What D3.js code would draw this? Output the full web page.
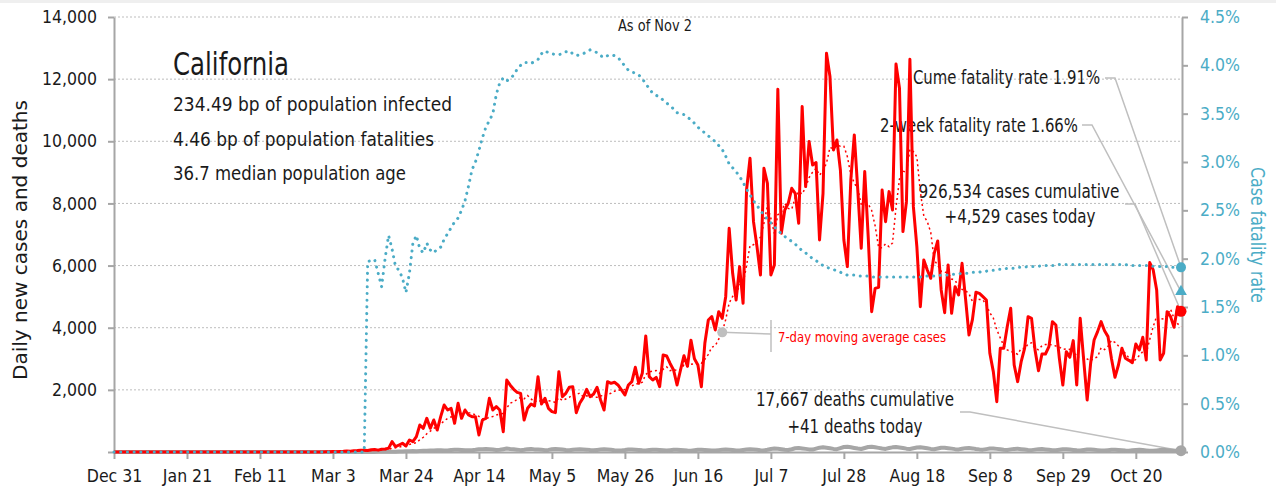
<!DOCTYPE html>
<html lang="en">

<head>
    <meta charset="UTF-8">
    <title>California</title>
    <script src="https://d3js.org/d3.v7.min.js"></script>
    <style>
        body {
            margin: 0;
            background: #fff;
        }

        text {
            font-family: "DejaVu Sans Condensed", "Liberation Sans Narrow", "DejaVu Sans", sans-serif;
            font-stretch: condensed;
            fill: #1a1a1a;
        }

        .axis path,
        .axis line {
            stroke: #a6a6a6;
            stroke-width: 2;
        }

        .axis text {
            font-size: 17.5px;
        }

        .rate text {
            fill: #4bacc6;
        }

        .grid {
            stroke: #bdbdbd;
            stroke-width: 1;
            stroke-dasharray: 2, 2;
        }

        .leader {
            fill: none;
            stroke: #bfbfbf;
            stroke-width: 1.5;
        }
    </style>
</head>

<body>
    <svg width="1276" height="493" id="chart"></svg>
</body>
<script>
    // one value per day, starting Dec 31 2019, ending Nov 2 2020
    var startDay = "2019-12-31";

    var dailyCases = [
        0, 0, 0, 0, 0, 0, 0, 0, 0, 0, 0, 0, 0, 0, 0, 0, 0, 0, 0, 0, 0, 0, 0, 0, 0, 0,
        1, 0, 0, 0, 0, 1, 1, 0, 0, 0, 1, 0, 0, 0, 0, 0, 0, 0, 0, 0, 0, 0, 0, 0, 0, 0, 1, 2, 1, 3, 1, 2, 0, 3,
        4, 6, 10, 14, 12, 18, 22, 30, 28, 40, 45, 55, 60, 50, 70, 80, 60, 90, 100,
        118, 333, 170, 225, 280, 193, 386, 333, 494, 870, 762, 1084, 762, 1030, 708, 1137, 1513, 1352, 1406, 923,
        1567, 1084, 1352, 1191, 1137, 1137, 547, 1030, 1084, 1727, 1352, 1459, 1352, 654, 2318, 2150, 2017, 1920, 1888, 1030,
        1406, 1545, 1480, 2425, 1545, 1727, 1406, 1298, 1266, 2586, 1781, 1888, 2082, 2103, 1266, 1567, 1750, 2017, 1781, 1867,
        2082, 1674, 1352, 2264, 2210, 2243, 2157, 2000, 1835, 2157, 2264, 2725, 2210, 2532, 3734, 2425, 2318, 2403, 2103, 3122,
        3090, 2850, 2640, 2157, 2640, 3100, 2760, 3600, 3000, 2800, 2103, 3498, 4249, 4356, 3927, 4517, 4303, 5000, 7200, 5751,
        4893, 5966, 4786, 8434, 9453, 7414, 6610, 5698, 9131, 8648, 5698, 6020, 11674, 7039, 7790, 8005, 8487, 8327, 7361, 11116,
        8541, 9990, 9238, 9314, 6824, 8327, 12833, 12082, 9721, 10043, 9077, 6824, 5966, 8756, 10204, 8434, 6556, 9024, 6932, 4517,
        5268, 5301, 8434, 7414, 8380, 7790, 12490, 11706, 7093, 8058, 12640, 7897, 6610, 4678, 6180, 5858, 5590, 6395, 6792, 5215,
        4485, 6020, 4464, 5322, 5054, 6073, 4946, 3766, 4270, 5140, 5107, 5000, 4893, 3176, 2586, 1620, 3337, 3337, 4034, 4625,
        2800, 2264, 2900, 3337, 4356, 4303, 3283, 2618, 3154, 3154, 3390, 4195, 4088, 3015, 2157, 3230, 3047, 3584, 2157, 4303,
        2961, 1674, 2854, 3605, 3874, 4195, 3900, 3713, 3000, 2404, 2800, 3337, 3015, 2950, 2876, 3477, 3283, 3691, 2961, 6095,
        5859, 5215, 2961, 3176, 4517, 4356, 4013, 4678, 4529
    ];

    var dailyDeaths = [
        0, 0, 0, 0, 0, 0, 0, 0, 0, 0, 0, 0, 0, 0, 0, 0, 0, 0, 0, 0, 0, 0, 0, 0, 0, 0, 0, 0, 0, 0, 0, 0,
        0, 0, 0, 0, 0, 0, 0, 0, 0, 0, 0, 0, 0, 0, 0, 0, 0, 0, 0, 0, 0, 0, 0, 0, 0, 0, 0, 0, 0, 0, 0, 0,
        1, 0, 1, 1, 2, 1, 2, 1, 3, 2, 4, 4, 6, 5, 8,
        8, 12, 10, 14, 18, 22, 25, 30, 28, 34, 38, 42, 45,
        50, 55, 60, 48, 52, 68, 70, 72, 66, 60, 55, 58, 70, 86, 92, 98, 90, 80, 64, 72, 90, 110, 96, 88, 76, 60, 70, 92, 100, 84,
        80, 72, 60, 68, 88, 94, 86, 78, 66, 58, 70, 84, 90, 82, 76, 62, 54, 66, 80, 86, 78, 70, 58, 52, 48, 62, 80, 84, 74, 66, 56,
        50, 62, 74, 70, 64, 54, 46, 58, 70, 74, 66, 58, 48, 42, 56, 70, 74, 68, 60, 50, 46, 60, 72, 80, 70, 62, 52, 48, 64, 78,
        86, 80, 70, 58, 50, 72, 98, 110, 104, 90, 70, 64, 90, 120, 130, 116, 100, 84, 78, 110, 140, 150, 136, 120, 100, 92, 126, 160, 170, 150, 130,
        112, 98, 130, 160, 170, 150, 132, 110, 100, 128, 150, 160, 146, 130, 108, 96, 120, 146, 150, 136, 118, 100, 90, 112, 136, 140, 124, 108, 92, 84, 104,
        124, 130, 116, 98, 84, 76, 92, 110, 116, 100, 86, 72, 66, 84, 100, 104, 92, 78, 66, 60, 76, 92, 96, 84, 70, 58, 54, 70, 86, 90,
        78, 66, 54, 50, 64, 80, 84, 72, 60, 50, 46, 58, 72, 76, 66, 56, 46, 42, 54, 68, 72, 62, 52, 44, 40, 52, 66, 70, 60, 50, 42,
        38, 41
    ];

    // case fatality rate, percent
    var fatalityRate = [
        0, 0, 0, 0, 0, 0, 0, 0, 0, 0, 0, 0, 0, 0, 0, 0, 0, 0, 0, 0, 0, 0, 0, 0, 0, 0, 0, 0, 0, 0, 0, 0, 0, 0, 0, 0, 0,
        0, 0, 0, 0, 0, 0, 0, 0, 0, 0, 0, 0, 0, 0, 0, 0, 0, 0, 0, 0, 0, 0, 0, 0, 0, 0, 0, 0, 0, 0, 0, 0, 0, 0, 0, 0,
        1.97, 1.98, 1.99, 1.85, 1.71, 2.0, 2.24, 2.1, 1.92, 1.88, 1.8, 1.65, 1.85, 2.16, 2.24, 2.1, 2.06, 2.16, 2.09, 2.06,
        2.1, 2.12, 2.2, 2.26, 2.32, 2.38, 2.42, 2.5, 2.6, 2.75, 2.92, 3.0, 3.12, 3.25, 3.36, 3.43, 3.5, 3.7, 3.82, 3.87,
        3.84, 3.86, 3.9, 3.96, 4.0, 4.03, 4.03, 4.02, 4.04, 4.06, 4.12, 4.15, 4.13, 4.12, 4.11, 4.11, 4.12, 4.14, 4.15, 4.12,
        4.1, 4.11, 4.12, 4.14, 4.16, 4.15, 4.13, 4.1, 4.08, 4.1, 4.11, 4.1, 4.08, 4.04, 3.99, 3.95, 3.93, 3.92, 3.9, 3.86,
        3.81, 3.76, 3.71, 3.69, 3.67, 3.64, 3.61, 3.58, 3.55, 3.51, 3.5, 3.49, 3.46, 3.44, 3.4, 3.36, 3.33, 3.3, 3.27, 3.24,
        3.21, 3.17, 3.13, 3.06, 2.98, 2.94, 2.9, 2.85, 2.79, 2.72, 2.66, 2.6, 2.55, 2.5, 2.45, 2.41, 2.37, 2.33, 2.29, 2.26,
        2.23, 2.2, 2.18, 2.15, 2.12, 2.08, 2.06, 2.03, 2.0, 1.98, 1.95, 1.93, 1.91, 1.9, 1.89, 1.87, 1.86, 1.84, 1.83,
        1.83, 1.83, 1.82, 1.82, 1.82, 1.82, 1.81, 1.81, 1.81, 1.81, 1.81, 1.81, 1.81, 1.81, 1.81, 1.81, 1.81, 1.81, 1.81, 1.81,
        1.81, 1.82, 1.82, 1.82, 1.82, 1.82, 1.83, 1.83, 1.83, 1.84, 1.84, 1.84, 1.85, 1.85, 1.85, 1.86, 1.86, 1.86, 1.87, 1.87,
        1.88, 1.88, 1.89, 1.89, 1.89, 1.9, 1.9, 1.9, 1.91, 1.91, 1.91, 1.92, 1.92, 1.92, 1.92, 1.93, 1.93, 1.93, 1.93, 1.93,
        1.94, 1.94, 1.94, 1.94, 1.94, 1.94, 1.94, 1.94, 1.94, 1.94, 1.94, 1.94, 1.94, 1.94, 1.94, 1.94, 1.94, 1.94, 1.94, 1.94,
        1.93, 1.93, 1.93, 1.93, 1.93, 1.93, 1.93, 1.92, 1.92, 1.92, 1.92, 1.92, 1.91, 1.91, 1.91, 1.91
    ];

    var dateTicks = ["2019-12-31", "2020-01-21", "2020-02-11", "2020-03-03", "2020-03-24", "2020-04-14", "2020-05-05",
        "2020-05-26", "2020-06-16", "2020-07-07", "2020-07-28", "2020-08-18", "2020-09-08", "2020-09-29", "2020-10-20"];
    var caseTicks = [0, 2000, 4000, 6000, 8000, 10000, 12000, 14000];
    var rateTicks = [0, 0.5, 1, 1.5, 2, 2.5, 3, 3.5, 4, 4.5];

    var stateName = "California";
    var stateFacts = ["234.49 bp of population infected", "4.46 bp of population fatalities", "36.7 median population age"];
    var asOf = "As of Nov 2";
    var cumeRate = 1.91,
        twoWeekRate = 1.66,
        casesCumulative = 926534,
        deathsCumulative = 17667;
    var legendDay = 175;

    var red = "#ff0000",
        teal = "#4bacc6",
        grey = "#a6a6a6";

    var svg = d3.select("#chart"),
        plotLeft = 114,
        plotRight = 1181,
        plotTop = 17,
        plotBottom = 452;

    var parseDay = d3.utcParse("%Y-%m-%d");
    var day0 = parseDay(startDay);
    var days = dailyCases.map(function (d, i) {
        return d3.utcDay.offset(day0, i);
    });
    var lastDay = days.length - 1;

    var movingAvg = dailyCases.map(function (d, i) {
        return i < 6 ? null : d3.mean(dailyCases.slice(i - 6, i + 1));
    });

    var x = d3.scaleUtc().domain([day0, days[lastDay]]).range([plotLeft, plotRight]);
    var yCases = d3.scaleLinear().domain([0, 14000]).range([plotBottom, plotTop]);
    var yRate = d3.scaleLinear().domain([0, 4.5]).range([plotBottom, plotTop]);

    svg.append("rect").attr("width", 1276).attr("height", 3).attr("fill", "#efefef");

    // gridlines
    svg.append("g").selectAll("line")
        .data(caseTicks.slice(1))
        .enter().append("line")
        .attr("class", "grid")
        .attr("x1", plotLeft).attr("x2", plotRight)
        .attr("y1", function (d) { return yCases(d); })
        .attr("y2", function (d) { return yCases(d); });

    // axes
    svg.append("g")
        .attr("class", "axis")
        .attr("transform", "translate(0," + plotBottom + ")")
        .call(d3.axisBottom(x)
            .tickValues(dateTicks.map(parseDay))
            .tickFormat(d3.utcFormat("%b %-d"))
            .tickSize(7).tickSizeOuter(0).tickPadding(11));

    svg.append("g")
        .attr("class", "axis")
        .attr("transform", "translate(" + plotLeft + ",0)")
        .call(d3.axisLeft(yCases)
            .tickValues(caseTicks)
            .tickFormat(function (d) { return d ? d3.format(",")(d) : ""; })
            .tickSize(6).tickSizeOuter(0).tickPadding(11));

    svg.append("g")
        .attr("class", "axis rate")
        .attr("transform", "translate(" + (plotRight + 1) + ",0)")
        .call(d3.axisRight(yRate)
            .tickValues(rateTicks)
            .tickFormat(function (d) { return d.toFixed(1) + "%"; })
            .tickSize(6).tickSizeOuter(0).tickPadding(12));

    svg.append("text")
        .attr("transform", "translate(27,240) rotate(-90)")
        .attr("text-anchor", "middle")
        .attr("font-size", "19.5px")
        .attr("textLength", 280).attr("lengthAdjust", "spacingAndGlyphs")
        .text("Daily new cases and deaths");

    svg.append("text")
        .attr("transform", "translate(1251,235) rotate(90)")
        .attr("text-anchor", "middle")
        .attr("font-size", "19.5px")
        .attr("textLength", 136).attr("lengthAdjust", "spacingAndGlyphs")
        .style("fill", teal)
        .text("Case fatality rate");

    // headline block
    svg.append("text")
        .attr("x", 173).attr("y", 75)
        .attr("font-size", "32px")
        .attr("textLength", 116).attr("lengthAdjust", "spacingAndGlyphs")
        .text(stateName);

    var factWidths = [279, 261, 233];
    svg.append("g").selectAll("text")
        .data(stateFacts)
        .enter().append("text")
        .attr("x", 173)
        .attr("y", function (d, i) { return 111 + i * 34.5; })
        .attr("font-size", "19.5px")
        .attr("textLength", function (d, i) { return factWidths[i]; })
        .attr("lengthAdjust", "spacingAndGlyphs")
        .text(function (d) { return d; });

    svg.append("text")
        .attr("x", 655).attr("y", 31)
        .attr("text-anchor", "middle")
        .attr("font-size", "15.5px")
        .attr("textLength", 74).attr("lengthAdjust", "spacingAndGlyphs")
        .text(asOf);

    // annotations
    var note = function (str, xPos, yPos, anchor, width) {
        svg.append("text").attr("x", xPos).attr("y", yPos)
            .attr("text-anchor", anchor).attr("font-size", "19.5px")
            .attr("textLength", width).attr("lengthAdjust", "spacingAndGlyphs")
            .text(str);
    };
    note("Cume fatality rate " + cumeRate.toFixed(2) + "%", 1100, 84, "end", 187);
    note("2-week fatality rate " + twoWeekRate.toFixed(2) + "%", 1078, 132, "end", 198);
    note(d3.format(",")(casesCumulative) + " cases cumulative", 1019, 198, "middle", 201);
    note("+" + d3.format(",")(dailyCases[lastDay]) + " cases today", 1020, 223, "middle", 151);
    note(d3.format(",")(deathsCumulative) + " deaths cumulative", 855, 406, "middle", 198);
    note("+" + dailyDeaths[lastDay] + " deaths today", 855, 433, "middle", 135);

    var endX = x(days[lastDay]);
    var leaders = [
        [[1105, 78], [1115, 78], [endX, yRate(cumeRate)]],
        [[1082, 125], [1092, 125], [endX, yRate(twoWeekRate)]],
        [[1125, 204], [1135, 204], [endX, yCases(dailyCases[lastDay])]],
        [[960, 412], [970, 412], [endX, yCases(dailyDeaths[lastDay])]]
    ];
    svg.append("g").selectAll("path")
        .data(leaders)
        .enter().append("path")
        .attr("class", "leader")
        .attr("d", d3.line());

    // series
    var line = function (series, scale) {
        return d3.line()
            .defined(function (d, i) { return series[i] !== null; })
            .x(function (d, i) { return x(days[i]); })
            .y(function (d, i) { return scale(series[i]); })(series);
    };

    svg.append("path")
        .attr("d", line(dailyDeaths, yCases))
        .attr("fill", "none").attr("stroke", grey)
        .attr("stroke-width", 4).attr("stroke-linejoin", "round");

    svg.append("path")
        .attr("d", line(movingAvg, yCases))
        .attr("fill", "none").attr("stroke", red)
        .attr("stroke-width", 1.5).attr("stroke-dasharray", "2,3");

    svg.append("path")
        .attr("d", line(dailyCases, yCases))
        .attr("fill", "none").attr("stroke", red)
        .attr("stroke-width", 3).attr("stroke-linejoin", "round");

    svg.append("path")
        .attr("d", line(fatalityRate, yRate))
        .attr("fill", "none").attr("stroke", teal)
        .attr("stroke-width", 3).attr("stroke-linecap", "round")
        .attr("stroke-dasharray", "0.1,6.6");

    // end markers
    svg.append("circle").attr("cx", endX).attr("cy", yCases(dailyDeaths[lastDay]))
        .attr("r", 5.5).attr("fill", grey);
    svg.append("circle").attr("cx", endX).attr("cy", yCases(dailyCases[lastDay]))
        .attr("r", 5.5).attr("fill", red);
    svg.append("circle").attr("cx", endX).attr("cy", yRate(cumeRate))
        .attr("r", 5).attr("fill", teal);
    svg.append("path")
        .attr("transform", "translate(" + endX + "," + yRate(twoWeekRate) + ")")
        .attr("d", d3.symbol().type(d3.symbolTriangle).size(60))
        .attr("fill", teal);

    // moving average legend
    var lx = x(days[legendDay]),
        ly = yCases(movingAvg[legendDay]);
    svg.append("path").attr("class", "leader")
        .attr("d", d3.line()([[lx, ly], [771, 334]]));
    svg.append("line").attr("class", "leader")
        .attr("x1", 771).attr("x2", 771).attr("y1", 320).attr("y2", 352);
    svg.append("circle").attr("cx", lx).attr("cy", ly).attr("r", 5).attr("fill", "#bfbfbf");
    svg.append("text").attr("x", 778).attr("y", 342)
        .attr("font-size", "14px")
        .attr("textLength", 168).attr("lengthAdjust", "spacingAndGlyphs")
        .style("fill", red)
        .text("7-day moving average cases");
</script>

</html>
